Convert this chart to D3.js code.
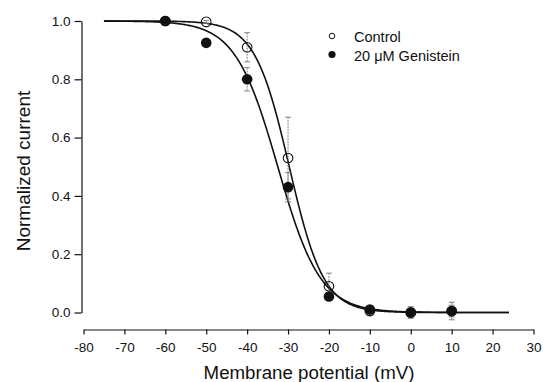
<!DOCTYPE html>
<html><head><meta charset="utf-8">
<script src="https://cdn.jsdelivr.net/npm/d3@7"></script>
<style>body{margin:0;background:#fff}svg{display:block;font-family:"Liberation Sans",Arial,sans-serif}</style>
</head><body><svg id="c" width="544" height="382"></svg>
<script>
const voltages = [-60, -50, -40, -30, -20, -10, 0, 10];
const controlValues = [1.0, 0.997, 0.91, 0.53, 0.09, 0.005, 0.0, 0.005];
const controlErrors = [0, 0.005, 0.05, 0.14, 0.045, 0.015, 0.02, 0.03];
const genisteinValues = [1.0, 0.925, 0.80, 0.43, 0.055, 0.01, 0.0, 0.005];
const genisteinErrors = [0, 0, 0.04, 0.05, 0.01, 0.01, 0.015, 0.02];
// Boltzmann fit parameters [V_half, slope k]
const controlFit = [-29.7, 4.2];
const genisteinFit = [-32.5, 5.2];
const fitRange = [-75, 24];
const xTicks = [-80, -70, -60, -50, -40, -30, -20, -10, 0, 10, 20, 30];
const yTicks = [0.0, 0.2, 0.4, 0.6, 0.8, 1.0];
const seriesNames = ["Control", "20 \u03BCM Genistein"];

const svg = d3.select("#c");
const x = d3.scaleLinear().domain([-80, 30]).range([83.5, 533.5]);
const y = d3.scaleLinear().domain([0, 1]).range([312.5, 21]);

// axes
const yAxis = svg.append("g").attr("transform", "translate(81.5,0)")
  .call(d3.axisLeft(y).tickValues(yTicks).tickFormat(d3.format(".1f")).tickSize(7).tickPadding(4).tickSizeOuter(0));
const xAxis = svg.append("g").attr("transform", "translate(0,329.5)")
  .call(d3.axisBottom(x).tickValues(xTicks).tickFormat(d => String(d)).tickSize(5).tickSizeOuter(0));
[yAxis, xAxis].forEach(g => {
  g.select(".domain").attr("stroke", "#111").attr("stroke-width", 1.2);
  g.selectAll(".tick line").attr("stroke", "#111").attr("stroke-width", 1.2);
  g.selectAll("text").attr("fill", "#111").style("font-size", "13.5px").style("font-family", "Liberation Sans, Arial, sans-serif");
});
xAxis.selectAll("text").attr("dy", "1.05em");

// axis labels
svg.append("text").attr("x", 309).attr("y", 378.5).attr("text-anchor", "middle")
  .style("font-size", "18.7px").attr("fill", "#111").text("Membrane potential (mV)");
svg.append("text").attr("transform", "translate(30,171) rotate(-90)").attr("text-anchor", "middle")
  .style("font-size", "19px").attr("fill", "#111").text("Normalized current");

// fit curves
const boltz = (p) => (v) => 1 / (1 + Math.exp((v - p[0]) / p[1]));
const line = d3.line().x(d => x(d[0])).y(d => y(d[1])).curve(d3.curveLinear);
[controlFit, genisteinFit].forEach(p => {
  const f = boltz(p);
  const pts = d3.range(fitRange[0], fitRange[1] + 0.001, 0.25).map(v => [v, f(v)]);
  svg.append("path").datum(pts).attr("d", line).attr("fill", "none")
    .attr("stroke", "#111").attr("stroke-width", 1.6);
});

// error bars
function errBars(vals, errs) {
  voltages.forEach((v, i) => {
    if (!errs[i]) return;
    const g = svg.append("g").attr("stroke", "#777").attr("stroke-width", 0.9);
    g.append("line").attr("x1", x(v)).attr("x2", x(v)).attr("y1", y(vals[i] + errs[i])).attr("y2", y(vals[i] - errs[i]))
      .attr("stroke-dasharray", "2,1");
    [vals[i] + errs[i], vals[i] - errs[i]].forEach(e => {
      g.append("line").attr("x1", x(v) - 3).attr("x2", x(v) + 3).attr("y1", y(e)).attr("y2", y(e));
    });
  });
}
errBars(controlValues, controlErrors);
errBars(genisteinValues, genisteinErrors);

// points
svg.append("g").selectAll("circle").data(voltages).join("circle")
  .attr("cx", d => x(d)).attr("cy", (d, i) => y(controlValues[i])).attr("r", 4.8)
  .attr("fill", "none").attr("stroke", "#111").attr("stroke-width", 1.1);
svg.append("g").selectAll("circle").data(voltages).join("circle")
  .attr("cx", d => x(d)).attr("cy", (d, i) => y(genisteinValues[i])).attr("r", 5.3)
  .attr("fill", "#111");

// legend
const lg = svg.append("g");
lg.append("circle").attr("cx", 332).attr("cy", 36).attr("r", 2.8).attr("fill", "none").attr("stroke", "#111").attr("stroke-width", 1);
lg.append("circle").attr("cx", 332).attr("cy", 54.5).attr("r", 3.6).attr("fill", "#111");
lg.append("text").attr("x", 354).attr("y", 42).style("font-size", "14.5px").attr("fill", "#111").text(seriesNames[0]);
lg.append("text").attr("x", 354).attr("y", 61).style("font-size", "14.5px").attr("fill", "#111").text(seriesNames[1]);
</script></body></html>
